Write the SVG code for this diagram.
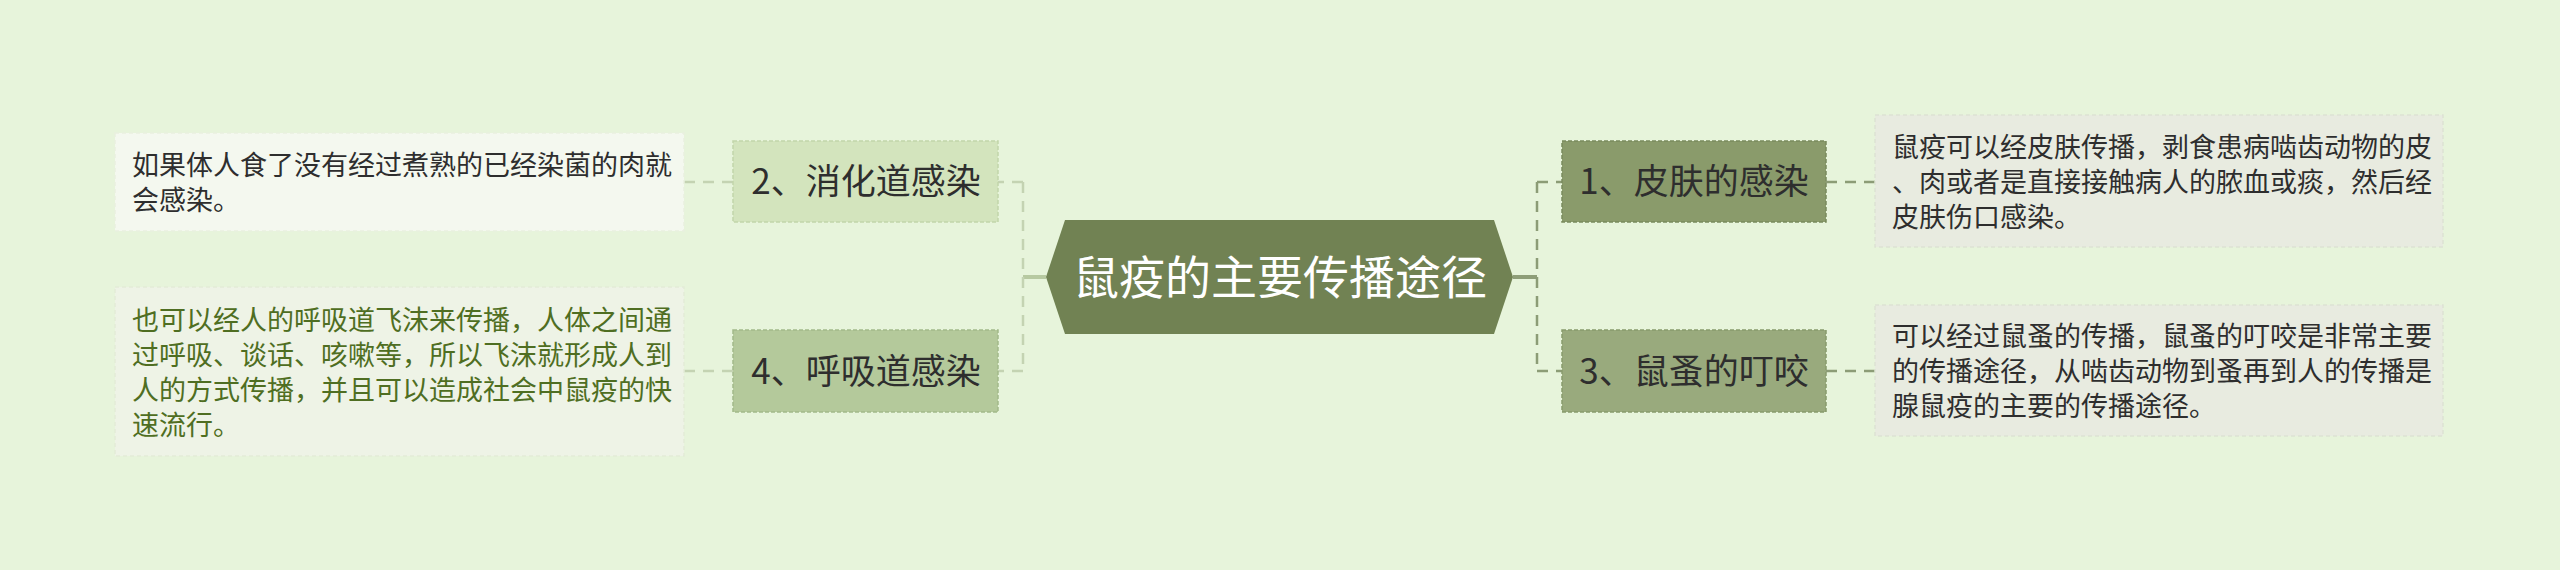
<svg xmlns="http://www.w3.org/2000/svg" width="2560" height="570" viewBox="0 0 2560 570">
<style>
text{font-family:"Noto Sans CJK SC","Noto Sans",sans-serif;}
.body{font-size:27px;fill:#2e2e2e;}
.green{fill:#4f6e22;}
.node{font-size:35px;fill:#2e2e2e;text-anchor:middle;}
.root{font-size:46px;fill:#ffffff;text-anchor:middle;}
.nb{stroke-width:1.5;stroke-dasharray:4 2;}
.tb{stroke-width:1.5;stroke-dasharray:4 3;}
.cl{fill:none;stroke:#c4d3b2;stroke-width:2.5;stroke-dasharray:11 8;}
.cr{fill:none;stroke:#8c9c76;stroke-width:2.5;stroke-dasharray:11 8;}
</style>
<rect x="0" y="0" width="2560" height="570" fill="#e7f4db"/>
<g id="connectors">
<path d="M1046 277 H1023" fill="none" stroke="#b7c9a1" stroke-width="4"/>
<path class="cl" d="M1023 182 V371" stroke-width="4"/>
<path class="cl" d="M1023 182 H998"/>
<path class="cl" d="M1023 371 H998"/>
<path class="cl" d="M733 182 H684"/>
<path class="cl" d="M733 371 H684"/>
<path d="M1513 277 H1537" fill="none" stroke="#8e9e78" stroke-width="4"/>
<path class="cr" d="M1537 182 V371" stroke-width="4"/>
<path class="cr" d="M1537 182 H1562"/>
<path class="cr" d="M1537 371 H1562"/>
<path class="cr" d="M1826 182 H1875"/>
<path class="cr" d="M1826 371 H1875"/>
</g>
<g id="root">
<polygon points="1046,277 1065,220 1494,220 1513,277 1494,334 1065,334" fill="#718253"/>
<text class="root" x="1280" y="294">鼠疫的主要传播途径</text>
</g>
<g id="node1">
<rect class="nb" x="1562" y="141" width="264" height="81" fill="#8a9b6b" stroke="#7a8a5d"/>
<text class="node" x="1694" y="194">1、皮肤的感染</text>
</g>
<g id="node1-detail">
<rect class="tb" x="1875" y="115" width="568" height="132" fill="#e8ebe0" stroke="#dde2d4"/>
<text class="body" x="1892" y="157">鼠疫可以经皮肤传播，剥食患病啮齿动物的皮</text>
<text class="body" x="1892" y="192">、肉或者是直接接触病人的脓血或痰，然后经</text>
<text class="body" x="1892" y="227">皮肤伤口感染。</text>
</g>
<g id="node3">
<rect class="nb" x="1562" y="330" width="264" height="82" fill="#99aa7d" stroke="#889a6c"/>
<text class="node" x="1694" y="384">3、鼠蚤的叮咬</text>
</g>
<g id="node3-detail">
<rect class="tb" x="1875" y="305" width="568" height="131" fill="#e8ebe0" stroke="#dde2d4"/>
<text class="body" x="1892" y="346">可以经过鼠蚤的传播，鼠蚤的叮咬是非常主要</text>
<text class="body" x="1892" y="381">的传播途径，从啮齿动物到蚤再到人的传播是</text>
<text class="body" x="1892" y="416">腺鼠疫的主要的传播途径。</text>
</g>
<g id="node2">
<rect class="nb" x="733" y="141" width="265" height="81" fill="#d3e4bd" stroke="#c2d5aa"/>
<text class="node" x="866" y="194">2、消化道感染</text>
</g>
<g id="node2-detail">
<rect class="tb" x="115" y="133" width="569" height="98" fill="#f4f8ef" stroke="#e9f0df"/>
<text class="body" x="132" y="175">如果体人食了没有经过煮熟的已经染菌的肉就</text>
<text class="body" x="132" y="210">会感染。</text>
</g>
<g id="node4">
<rect class="nb" x="733" y="330" width="265" height="82" fill="#b4c99b" stroke="#a3b98a"/>
<text class="node" x="866" y="384">4、呼吸道感染</text>
</g>
<g id="node4-detail">
<rect class="tb" x="115" y="287" width="569" height="169" fill="#eef3e6" stroke="#e3ebd8"/>
<text class="body green" x="132" y="330">也可以经人的呼吸道飞沫来传播，人体之间通</text>
<text class="body green" x="132" y="365">过呼吸、谈话、咳嗽等，所以飞沫就形成人到</text>
<text class="body green" x="132" y="400">人的方式传播，并且可以造成社会中鼠疫的快</text>
<text class="body green" x="132" y="435">速流行。</text>
</g>
</svg>
